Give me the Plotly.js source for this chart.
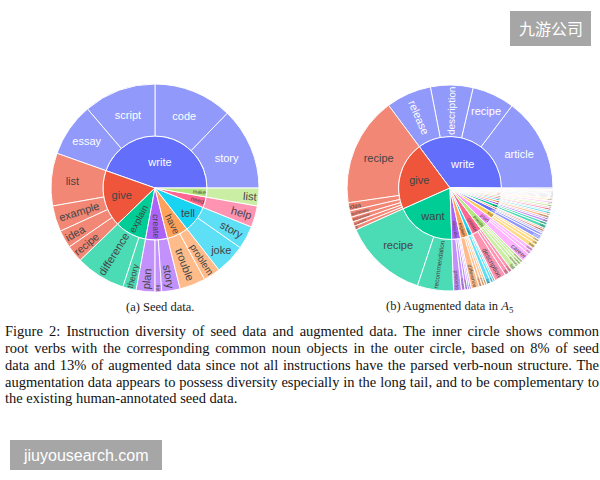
<!DOCTYPE html>
<html>
<head>
<meta charset="utf-8">
<script src="https://cdn.plot.ly/plotly-3.0.1.min.js"></script>
<style>
  html, body { margin: 0; padding: 0; background: #ffffff; }
  #chart { width: 600px; height: 480px; }
</style>
</head>
<body>
<div id="chart"></div>
<script>
// ---------- (a) Seed data: root verbs and their noun objects ----------
const seedVerbs = ['write', 'give', 'explain', 'create', 'have', 'tell', 'need', 'make'];
const seedLeafVerb = ['write', 'write', 'write', 'write',
  'give', 'give', 'give', 'give',
  'explain', 'explain',
  'create', 'create', 'create',
  'have', 'have',
  'tell', 'tell',
  'need',
  'make'];
const seedNouns = ['story', 'code', 'script', 'essay',
  'list', 'example', 'idea', 'recipe',
  'difference', 'theory',
  'plan', 'list', 'story',
  'trouble', 'problem',
  'joke', 'story',
  'help',
  'list'];
const seedCounts = [46, 44, 40.5, 30,
  29.5, 14.5, 10, 9.5,
  28, 7.5,
  10.5, 3.7, 10.3,
  14.5, 9.5,
  17, 13,
  12,
  10];

// ---------- (b) Augmented data: root verbs and their noun objects ----------
const augVerbs = ['write', 'give', 'want', 'describe', 'explain', 'make', 'create', 'provide',
  'plan', 'find', 'tell', 'have', 'need', 'help', 'use', 'take', 'build', 'design',
  'compose', 'compare', 'translate', 'summarize', 'recommend', 'calculate', 'name',
  'choose', 'identify', 'convert', 'generate', 'suggest', 'list'];
const augLeafVerb = ['write', 'write', 'write', 'write',
  'give', 'give', 'give', 'give', 'give', 'give',
  'want', 'want',
  'describe', 'describe', 'describe', 'describe', 'describe',
  'explain', 'explain', 'explain', 'explain',
  'make', 'make', 'make',
  'create', 'create', 'create',
  'provide', 'provide', 'provide', 'provide',
  'plan', 'plan', 'plan',
  'find', 'find', 'find',
  'tell', 'tell', 'tell',
  'have', 'have',
  'need', 'need',
  'help', 'help',
  'use', 'use',
  'take', 'take',
  'build', 'build',
  'design', 'design',
  'compose', 'compose',
  'compare', 'compare',
  'translate', 'summarize', 'recommend', 'calculate', 'name',
  'choose', 'identify', 'convert', 'generate', 'suggest', 'list'];
const augNouns = ['article', 'recipe', 'description', 'release',
  'recipe', 'idea', 'summary', 'explanation', 'example', 'tip',
  'recipe', 'recommendation',
  'process', 'character', 'experience', 'situation', 'feature',
  'difference', 'concept', 'process', 'meaning',
  'list', 'plan', 'recommendation',
  'description', 'list', 'story',
  'list', 'summary', 'example', 'information',
  'career', 'trip', 'party',
  'way', 'job', 'place',
  'story', 'joke', 'difference',
  'conversation', 'question',
  'help', 'advice',
  'plan', 'project',
  'technology', 'tool',
  'care', 'step',
  'website', 'app',
  'logo', 'system',
  'poem', 'song',
  'product', 'option',
  'sentence', 'article', 'book', 'cost', 'thing',
  'gift', 'type', 'unit', 'name', 'idea', 'way'];
const augCounts = [53, 24, 24, 25.6,
  61.7, 4.6, 3.6, 2.8, 2.5, 2.2,
  47.6, 20.4,
  4.5, 2, 1.5, 1, 1,
  4.5, 1.8, 1.5, 1.2,
  2.5, 1.5, 1,
  6.5, 2.5, 2,
  3, 2, 1.5, 1.5,
  5, 2, 2,
  2.5, 2, 1.5,
  2.5, 1.5, 1,
  1.2, 0.8,
  2, 1.5,
  1.5, 1,
  1.5, 1,
  1.2, 0.8,
  1.2, 0.8,
  1.2, 0.8,
  1, 0.5,
  0.9, 0.6,
  0.6, 0.6, 0.6, 0.5, 0.5,
  0.5, 0.5, 0.4, 0.4, 0.4, 0.5];

// ---------- captions ----------
const subCaptions = ['(a) Seed data.', '(b) Augmented data in <i>A</i><sub>5</sub>'];
const captionLines = [
  'Figure 2: Instruction diversity of seed data and augmented data. The inner circle shows common',
  'root verbs with the corresponding common noun objects in the outer circle, based on 8% of seed',
  'data and 13% of augmented data since not all instructions have the parsed verb-noun structure. The',
  'augmentation data appears to possess diversity especially in the long tail, and to be complementary to',
  'the existing human-annotated seed data.'
];

const verbColors = ['#636efa', '#EF553B', '#00cc96', '#ab63fa', '#FFA15A',
  '#19d3f3', '#FF6692', '#B6E880', '#FF97FF', '#FECB52'];

function buildSunburst(verbs, leafVerb, nouns, counts, domain) {
  const ids = verbs.concat(leafVerb.map((v, i) => v + '/' + nouns[i] + '/' + i));
  const labels = verbs.concat(nouns);
  const parents = verbs.map(() => '').concat(leafVerb);
  const values = verbs.map(() => 0).concat(counts);
  const colorOf = v => verbColors[verbs.indexOf(v) % verbColors.length];
  const colors = verbs.map(colorOf).concat(leafVerb.map(colorOf));
  return {
    type: 'sunburst',
    ids: ids,
    labels: labels,
    parents: parents,
    values: values,
    branchvalues: 'remainder',
    sort: false,
    domain: domain,
    marker: { colors: colors, line: { color: '#ffffff', width: 1 } },
    leaf: { opacity: 0.7 },
    textfont: { family: 'Liberation Sans, Arial, sans-serif', size: 11 },
    insidetextorientation: 'auto',
    hoverinfo: 'label+value'
  };
}

const W = 600, H = 480;
const px = x => x / W;
const py = y => 1 - y / H;

const traces = [
  buildSunburst(seedVerbs, seedLeafVerb, seedNouns, seedCounts,
    { x: [px(51), px(259)], y: [py(292), py(84)] }),
  buildSunburst(augVerbs, augLeafVerb, augNouns, augCounts,
    { x: [px(347), px(553)], y: [py(291), py(85)] })
];

const annotations = [
  { text: subCaptions[0], x: px(160), y: py(307) },
  { text: subCaptions[1], x: px(450), y: py(307) }
].map(a => Object.assign({
  xref: 'paper', yref: 'paper', showarrow: false, xanchor: 'center', yanchor: 'middle',
  font: { family: 'Liberation Serif, Times New Roman, serif', size: 12.5, color: '#1a1a1a' }
}, a));

const lineY = [331, 348, 364.5, 381.5, 398];
captionLines.forEach((t, i) => {
  annotations.push({
    text: t, xref: 'paper', yref: 'paper', x: px(3), y: py(lineY[i]),
    xanchor: 'left', yanchor: 'middle', align: 'left', showarrow: false,
    font: { family: 'Liberation Serif, Times New Roman, serif', size: 14.5, color: '#111111' }
  });
});

// watermark labels
annotations.push({
  text: '九游公司', xref: 'paper', yref: 'paper', x: px(550.5), y: py(28.5),
  xanchor: 'center', yanchor: 'middle', showarrow: false,
  font: { family: 'Noto Sans CJK SC, sans-serif', size: 16, color: '#ffffff' }
});
annotations.push({
  text: 'jiuyousearch.com', xref: 'paper', yref: 'paper', x: px(86), y: py(455),
  xanchor: 'center', yanchor: 'middle', showarrow: false,
  font: { family: 'Liberation Sans, Arial, sans-serif', size: 16, color: '#ffffff' }
});

const shapes = [
  { type: 'rect', xref: 'paper', yref: 'paper', x0: px(510), x1: px(591), y0: py(46), y1: py(11),
    fillcolor: '#a6a6a6', line: { width: 0 }, layer: 'below' },
  { type: 'rect', xref: 'paper', yref: 'paper', x0: px(10), x1: px(162), y0: py(470), y1: py(440),
    fillcolor: '#a6a6a6', line: { width: 0 }, layer: 'below' }
];

const layout = {
  width: W, height: H,
  margin: { l: 0, r: 0, t: 0, b: 0 },
  paper_bgcolor: '#ffffff',
  showlegend: false,
  annotations: annotations,
  shapes: shapes
};

Plotly.newPlot('chart', traces, layout, { displayModeBar: false, staticPlot: true }).then(gd => {
  // justify the paragraph lines (all but the last) to the full text width
  const targetWidth = 594;
  const texts = gd.querySelectorAll('.annotation-text');
  texts.forEach(el => {
    const content = el.textContent;
    const idx = captionLines.indexOf(content);
    if (idx < 0 || idx === captionLines.length - 1) return;
    const len = el.getComputedTextLength();
    const spaces = (content.match(/ /g) || []).length;
    if (spaces > 0 && len < targetWidth) {
      el.setAttribute('word-spacing', ((targetWidth - len) / spaces).toFixed(2));
    }
  });
});
</script>
</body>
</html>
